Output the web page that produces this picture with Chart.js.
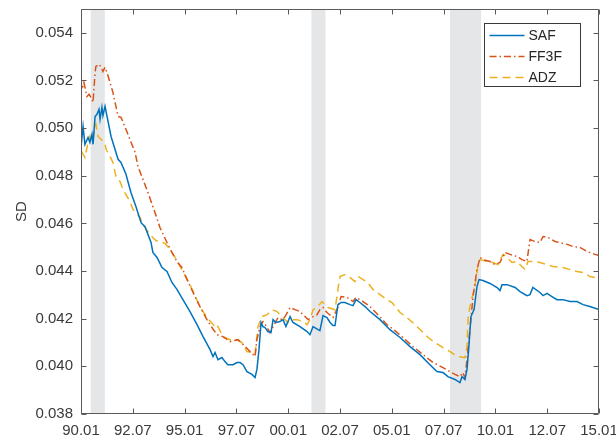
<!DOCTYPE html>
<html>
<head>
<meta charset="utf-8">
<script src="https://cdn.jsdelivr.net/npm/chart.js@4.4.1/dist/chart.umd.min.js"></script>
<style>
html,body{margin:0;padding:0;background:#fff;}
canvas{display:block;}
</style>
</head>
<body>
<canvas id="c" width="616" height="447"></canvas>
<script>
// ---------------- DATA ----------------
const seriesNames = ["SAF", "FF3F", "ADZ"];

const safDates = [1990.00,1990.10,1990.19,1990.34,1990.43,1990.53,1990.58,1990.68,1990.77,1990.87,1990.92,1991.01,1991.06,1991.16,1991.45,1991.79,1991.93,1992.17,1992.41,1992.65,1992.90,1993.09,1993.38,1993.47,1993.67,1993.91,1994.15,1994.39,1994.63,1994.92,1995.26,1995.60,1995.89,1996.23,1996.37,1996.47,1996.61,1996.80,1996.95,1997.09,1997.34,1997.53,1997.67,1997.82,1998.01,1998.25,1998.40,1998.49,1998.59,1998.69,1998.78,1998.88,1999.02,1999.17,1999.27,1999.41,1999.60,1999.75,1999.89,2000.09,2000.23,2000.57,2000.91,2001.05,2001.20,2001.44,2001.53,2001.68,2001.87,2002.02,2002.16,2002.26,2002.40,2002.55,2002.74,2002.98,2003.13,2003.27,2003.46,2003.71,2003.95,2004.43,2004.91,2005.40,2005.88,2006.36,2006.84,2007.18,2007.47,2007.71,2008.05,2008.29,2008.39,2008.53,2008.63,2008.72,2008.82,2008.97,2009.11,2009.21,2009.40,2009.74,2010.08,2010.22,2010.32,2010.56,2010.95,2011.19,2011.52,2011.67,2011.81,2012.15,2012.30,2012.49,2012.73,2012.97,2013.26,2013.60,2013.94,2014.23,2014.56,2015.00];
const safValues = [0.04919,0.05007,0.04932,0.04961,0.04940,0.04974,0.04932,0.05049,0.05058,0.05079,0.05037,0.05087,0.05053,0.05091,0.04965,0.04869,0.04856,0.04806,0.04730,0.04671,0.04603,0.04586,0.04520,0.04478,0.04457,0.04415,0.04398,0.04352,0.04323,0.04280,0.04230,0.04175,0.04125,0.04070,0.04041,0.04058,0.04028,0.04037,0.04020,0.04007,0.04007,0.04016,0.04016,0.04007,0.03978,0.03966,0.03953,0.03987,0.04070,0.04184,0.04167,0.04163,0.04146,0.04142,0.04196,0.04184,0.04188,0.04196,0.04167,0.04209,0.04184,0.04167,0.04146,0.04133,0.04167,0.04154,0.04150,0.04213,0.04205,0.04184,0.04171,0.04171,0.04259,0.04268,0.04268,0.04259,0.04255,0.04280,0.04268,0.04251,0.04230,0.04196,0.04154,0.04121,0.04083,0.04049,0.04007,0.03978,0.03974,0.03957,0.03945,0.03932,0.03957,0.03945,0.03987,0.04083,0.04209,0.04238,0.04335,0.04364,0.04360,0.04348,0.04331,0.04318,0.04343,0.04343,0.04331,0.04314,0.04297,0.04301,0.04331,0.04310,0.04297,0.04306,0.04293,0.04280,0.04280,0.04272,0.04272,0.04259,0.04251,0.04238];

const ff3fDates = [1990.00,1990.05,1990.14,1990.29,1990.39,1990.48,1990.58,1990.68,1990.72,1990.87,1990.97,1991.06,1991.16,1991.25,1991.40,1991.54,1991.79,1991.93,1992.17,1992.36,1992.61,1992.75,1992.99,1993.23,1993.57,1993.81,1994.15,1994.39,1994.63,1994.87,1995.12,1995.41,1995.74,1996.08,1996.32,1996.56,1996.85,1997.19,1997.58,1997.82,1998.16,1998.40,1998.49,1998.64,1998.78,1998.98,1999.12,1999.51,1999.70,1999.85,2000.09,2000.33,2000.57,2000.81,2000.96,2001.20,2001.39,2001.53,2001.68,2001.87,2002.16,2002.40,2002.55,2002.84,2003.13,2003.27,2003.61,2003.95,2004.33,2004.77,2005.15,2005.49,2006.02,2006.51,2006.99,2007.47,2008.05,2008.29,2008.43,2008.53,2008.63,2008.77,2008.92,2009.11,2009.26,2009.40,2009.74,2009.98,2010.22,2010.46,2010.70,2011.04,2011.28,2011.52,2011.67,2011.91,2012.15,2012.30,2012.54,2012.88,2013.26,2013.50,2013.74,2014.08,2014.42,2014.81,2015.00];
const ff3fValues = [0.05196,0.05163,0.05192,0.05133,0.05142,0.05129,0.05108,0.05234,0.05259,0.05268,0.05255,0.05238,0.05255,0.05234,0.05192,0.05150,0.05049,0.05045,0.04995,0.04953,0.04898,0.04839,0.04785,0.04730,0.04646,0.04583,0.04520,0.04478,0.04440,0.04415,0.04364,0.04310,0.04251,0.04196,0.04163,0.04133,0.04125,0.04104,0.04112,0.04092,0.04062,0.04041,0.04112,0.04167,0.04188,0.04163,0.04142,0.04205,0.04196,0.04209,0.04247,0.04238,0.04230,0.04209,0.04196,0.04209,0.04217,0.04238,0.04247,0.04226,0.04205,0.04247,0.04293,0.04289,0.04272,0.04289,0.04272,0.04251,0.04217,0.04175,0.04150,0.04125,0.04083,0.04049,0.04016,0.03995,0.03966,0.03957,0.03974,0.03953,0.04028,0.04154,0.04293,0.04406,0.04457,0.04448,0.04440,0.04427,0.04436,0.04478,0.04470,0.04461,0.04448,0.04440,0.04532,0.04524,0.04520,0.04545,0.04541,0.04524,0.04516,0.04511,0.04503,0.04499,0.04482,0.04470,0.04465];

const adzDates = [1990.00,1990.10,1990.19,1990.34,1990.43,1990.48,1990.58,1990.68,1990.72,1990.82,1990.97,1991.16,1991.21,1991.40,1991.54,1991.69,1991.88,1992.03,1992.17,1992.36,1992.51,1992.65,1992.85,1992.99,1993.23,1993.47,1993.62,1993.81,1994.05,1994.30,1994.54,1994.92,1995.26,1995.74,1996.08,1996.47,1996.56,1996.85,1997.19,1997.53,1997.77,1998.01,1998.25,1998.40,1998.54,1998.74,1998.98,1999.22,1999.46,1999.70,1999.85,1999.99,2000.18,2000.42,2000.71,2000.91,2001.05,2001.20,2001.39,2001.63,2001.78,2001.92,2002.26,2002.40,2002.50,2002.74,2002.98,2003.22,2003.37,2003.61,2003.80,2004.09,2004.43,2004.77,2005.01,2005.40,2005.73,2006.12,2006.46,2006.75,2007.08,2007.47,2007.81,2008.19,2008.53,2008.63,2008.68,2008.77,2009.01,2009.16,2009.26,2009.59,2009.88,2010.12,2010.37,2010.56,2010.80,2011.04,2011.28,2011.43,2011.57,2011.81,2012.15,2012.49,2012.78,2013.26,2013.60,2013.94,2014.23,2014.56,2015.00];
const adzValues = [0.04906,0.04890,0.04877,0.04940,0.04965,0.04940,0.04953,0.05007,0.05016,0.04965,0.04953,0.04932,0.04911,0.04881,0.04856,0.04797,0.04776,0.04743,0.04721,0.04692,0.04658,0.04645,0.04624,0.04595,0.04565,0.04540,0.04528,0.04524,0.04516,0.04491,0.04457,0.04398,0.04343,0.04251,0.04205,0.04167,0.04175,0.04125,0.04112,0.04112,0.04100,0.04062,0.04058,0.04049,0.04167,0.04209,0.04217,0.04238,0.04230,0.04209,0.04196,0.04184,0.04196,0.04196,0.04188,0.04175,0.04196,0.04238,0.04247,0.04272,0.04259,0.04247,0.04238,0.04323,0.04377,0.04385,0.04373,0.04356,0.04377,0.04364,0.04356,0.04323,0.04301,0.04280,0.04268,0.04226,0.04205,0.04175,0.04146,0.04121,0.04100,0.04079,0.04062,0.04041,0.04037,0.04083,0.04196,0.04251,0.04335,0.04427,0.04448,0.04440,0.04436,0.04427,0.04470,0.04457,0.04436,0.04440,0.04419,0.04406,0.04440,0.04440,0.04436,0.04427,0.04419,0.04415,0.04406,0.04398,0.04394,0.04377,0.04369];

// recession bands (start, end) in decimal years
const recessionStarts = [1990.47, 2001.12, 2007.81];
const recessionEnds   = [1991.15, 2001.80, 2009.31];

// axis ticks
const xTickValues = [1990, 1992.5, 1995, 1997.5, 2000, 2002.5, 2005, 2007.5, 2010, 2012.5, 2015];
const xTickLabels = ["90.01","92.07","95.01","97.07","00.01","02.07","05.01","07.07","10.01","12.07","15.01"];
const yTickValues = [0.038, 0.040, 0.042, 0.044, 0.046, 0.048, 0.050, 0.052, 0.054];
const yAxisTitle = "SD";

// ---------------- CHART ----------------
const FONT = "'Liberation Sans', Arial, Helvetica, sans-serif";
const AXIS_COLOR = '#5a5a5a';
const TEXT_COLOR = '#3a3a3a';

function pts(d, v) { return d.map((x, i) => ({x: x, y: v[i]})); }

const bandsPlugin = {
  id: 'bands',
  beforeDatasetsDraw(chart) {
    const {ctx, chartArea: a, scales: {x}} = chart;
    ctx.save();
    ctx.fillStyle = '#e5e6e8';
    for (let i = 0; i < recessionStarts.length; i++) {
      const x0 = x.getPixelForValue(recessionStarts[i]);
      const x1 = x.getPixelForValue(recessionEnds[i]);
      ctx.fillRect(x0, a.top, x1 - x0, a.bottom - a.top);
    }
    ctx.restore();
  }
};

const framePlugin = {
  id: 'frame',
  afterDatasetsDraw(chart) {
    const {ctx, chartArea: a, scales: {x, y}} = chart;
    ctx.save();
    ctx.strokeStyle = AXIS_COLOR;
    ctx.lineWidth = 1;
    ctx.beginPath();
    const L = Math.round(a.left) + 0.5, R = Math.round(a.right) - 0.5;
    const T = Math.round(a.top) + 0.5, B = Math.round(a.bottom) - 0.5;
    ctx.rect(L, T, R - L, B - T);
    const tl = 5;
    xTickValues.forEach(v => {
      const px = Math.round(x.getPixelForValue(v)) + 0.5;
      ctx.moveTo(px, B); ctx.lineTo(px, B - tl);
      ctx.moveTo(px, T); ctx.lineTo(px, T + tl);
    });
    yTickValues.forEach(v => {
      const py = Math.round(y.getPixelForValue(v)) + 0.5;
      ctx.moveTo(L, py); ctx.lineTo(L + tl, py);
      ctx.moveTo(R, py); ctx.lineTo(R - tl, py);
    });
    ctx.stroke();
    ctx.restore();
  }
};

const legendPlugin = {
  id: 'boxLegend',
  afterDraw(chart) {
    const {ctx, chartArea: a} = chart;
    const w = 96, h = 63;
    const bx = Math.round(a.right - 19 - w) + 0.5;
    const by = Math.round(a.top + 14) + 0.5;
    ctx.save();
    ctx.fillStyle = '#ffffff';
    ctx.fillRect(bx, by, w, h);
    ctx.strokeStyle = '#3a3a3a';
    ctx.lineWidth = 1;
    ctx.strokeRect(bx, by, w, h);
    ctx.font = '14px ' + FONT;
    ctx.textBaseline = 'middle';
    ctx.textAlign = 'left';
    chart.data.datasets.forEach((ds, i) => {
      const yy = by + 12 + i * 21;
      ctx.beginPath();
      ctx.strokeStyle = ds.borderColor;
      ctx.lineWidth = ds.borderWidth;
      ctx.setLineDash(ds.borderDash || []);
      ctx.moveTo(bx + 5, yy);
      ctx.lineTo(bx + 40, yy);
      ctx.stroke();
      ctx.setLineDash([]);
      ctx.fillStyle = '#262626';
      ctx.fillText(ds.label, bx + 44, yy + 1);
    });
    ctx.restore();
  }
};

new Chart(document.getElementById('c'), {
  type: 'line',
  data: {
    datasets: [
      { label: seriesNames[0], data: pts(safDates, safValues), borderColor: '#0072BD', borderWidth: 1.5, borderDash: [] },
      { label: seriesNames[1], data: pts(ff3fDates, ff3fValues), borderColor: '#D95319', borderWidth: 1.5, borderDash: [7, 3, 1.5, 3] },
      { label: seriesNames[2], data: pts(adzDates, adzValues), borderColor: '#EDB120', borderWidth: 1.5, borderDash: [8, 5] }
    ]
  },
  options: {
    responsive: false,
    animation: false,
    devicePixelRatio: 1,
    layout: { padding: { left: 0, right: 17, top: 9, bottom: 0 } },
    elements: { point: { radius: 0 }, line: { tension: 0, fill: false } },
    plugins: { legend: { display: false }, tooltip: { enabled: false } },
    scales: {
      x: {
        type: 'linear',
        min: 1990, max: 2015,
        afterBuildTicks: s => { s.ticks = xTickValues.map(v => ({value: v})); },
        afterFit: s => { s.height = 33; s.paddingLeft = 0; s.paddingRight = 0; },
        grid: { display: false, drawTicks: false },
        border: { display: false },
        ticks: {
          padding: 8,
          color: TEXT_COLOR,
          font: { family: FONT, size: 15 },
          maxRotation: 0,
          autoSkip: false,
          callback: (v) => { const i = xTickValues.indexOf(v); return i >= 0 ? xTickLabels[i] : ''; }
        }
      },
      y: {
        type: 'linear',
        min: 0.038, max: 0.055,
        afterBuildTicks: s => { s.ticks = yTickValues.map(v => ({value: v})); },
        afterFit: s => { s.width = 81; s.paddingTop = 0; s.paddingBottom = 0; },
        grid: { display: false, drawTicks: false },
        border: { display: false },
        ticks: {
          padding: 8,
          color: TEXT_COLOR,
          font: { family: FONT, size: 15 },
          autoSkip: false,
          callback: v => Number(v).toFixed(3)
        },
        title: {
          display: true,
          text: yAxisTitle,
          color: TEXT_COLOR,
          font: { family: FONT, size: 15 },
          padding: { top: 13, bottom: 0 }
        }
      }
    }
  },
  plugins: [bandsPlugin, framePlugin, legendPlugin]
});
</script>
</body>
</html>
